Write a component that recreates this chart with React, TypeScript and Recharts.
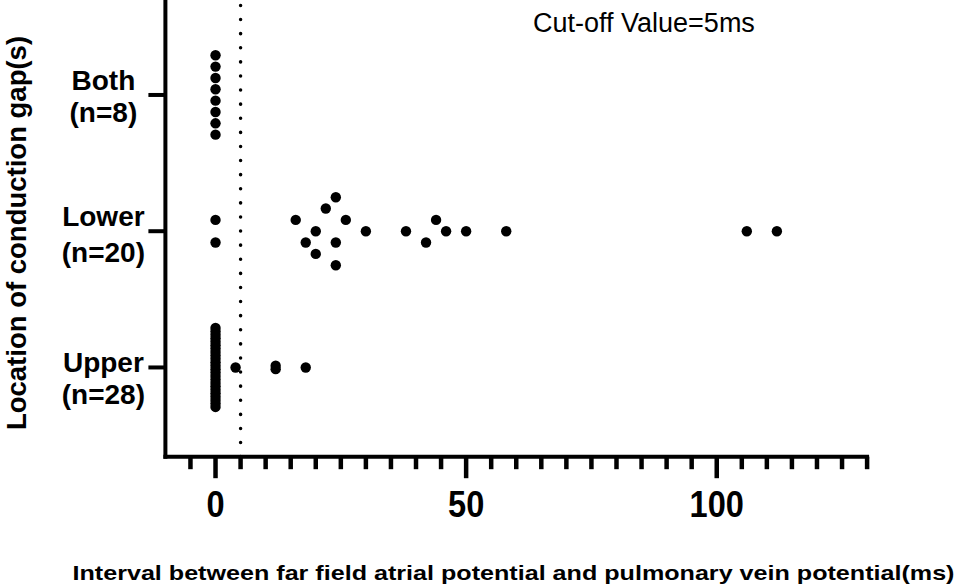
import React from "react";
import { ScatterChart, Scatter, XAxis, YAxis, ReferenceLine } from "recharts";

// groups, bottom to top
const groupNames = ["Upper", "Lower", "Both"];
const groupCounts = ["(n=28)", "(n=20)", "(n=8)"];
const groupY = [1, 2, 3];

// interval values (ms) and swarm lane of each dot (+ = up)
const upperValues = [0, 0, 0, 0, 0, 0, 0, 0, 0, 0, 0, 0, 0, 0, 0, 0, 0, 0, 0, 0, 0, 0, 0, 0, 4, 12, 12, 18];
const upperLanes = [
  11.5, 10.5, 9.5, 8.5, 7.5, 6.5, 5.5, 4.5, 3.5, 2.5, 1.5, 0.5,
  -0.5, -1.5, -2.5, -3.5, -4.5, -5.5, -6.5, -7.5, -8.5, -9.5, -10.5, -11.5,
  0, 0.5, -0.5, 0,
];
const lowerValues = [0, 0, 16, 18, 20, 20, 22, 24, 24, 24, 26, 30, 38, 42, 44, 46, 50, 58, 106, 112];
const lowerLanes = [1, -1, 1, -1, 0, -2, 2, 3, -1, -3, 1, 0, 0, -1, 1, 0, 0, 0, 0, 0];
const bothValues = [0, 0, 0, 0, 0, 0, 0, 0];
const bothLanes = [3.5, 2.5, 1.5, 0.5, -0.5, -1.5, -2.5, -3.5];

const cutOff = 5;
const xTicks = [-5, 0, 5, 10, 15, 20, 25, 30, 35, 40, 45, 50, 55, 60, 65, 70, 75, 80, 85, 90, 95, 100, 105, 110, 115, 120, 125, 130];
const xLabelTicks = [0, 50, 100];

// lane spacing in y units per group (upper column is squeezed)
const laneStep = [0.0252, 0.0832, 0.0832];

const toPoints = (values: number[], lanes: number[], g: number) =>
  values.map((v, i) => ({ x: v, y: groupY[g] + lanes[i] * laneStep[g] }));

const upperData = toPoints(upperValues, upperLanes, 0);
const lowerData = toPoints(lowerValues, lowerLanes, 1);
const bothData = toPoints(bothValues, bothLanes, 2);

const FONT = "'Liberation Sans', Arial, sans-serif";

const Dot = (props: any) => <circle cx={props.cx} cy={props.cy} r={5.2} fill="#000" />;

const XTick = (props: any) => {
  const { x, y, payload } = props;
  const major = xLabelTicks.includes(payload.value);
  return (
    <g>
      <line x1={x} x2={x} y1={y} y2={y + (major ? 21.5 : 12.5)} stroke="#000" strokeWidth={4.5} />
      {major && (
        <text
          transform={`translate(${x},517) scale(0.88,1)`}
          textAnchor="middle"
          fontSize={37}
          fontWeight="bold"
          fontFamily={FONT}
          fill="#000"
        >
          {payload.value}
        </text>
      )}
    </g>
  );
};

// baseline offsets of the two label lines, per group
const labelDy = [
  [4.5, 36.5],
  [-5, 31],
  [-5, 27.5],
];

const YTick = (props: any) => {
  const { x, y, payload } = props;
  const g = groupY.indexOf(payload.value);
  if (g < 0) return null;
  return (
    <g>
      <line x1={x - 17} x2={x} y1={y} y2={y} stroke="#000" strokeWidth={4} />
      <text x={x - 62} y={y + labelDy[g][0]} textAnchor="middle" fontSize={28} fontWeight="bold" fontFamily={FONT} fill="#000">
        {groupNames[g]}
      </text>
      <text x={x - 62} y={y + labelDy[g][1]} textAnchor="middle" fontSize={28} fontWeight="bold" fontFamily={FONT} fill="#000">
        {groupCounts[g]}
      </text>
    </g>
  );
};

export default function App() {
  return (
    <div style={{ position: "absolute", left: 0, top: 0, width: 957, height: 585, background: "#fff" }}>
      <ScatterChart width={957} height={585} margin={{ top: 0, right: 89.9, bottom: 88.3, left: 105.4 }}>
        <XAxis
          type="number"
          dataKey="x"
          domain={[-10, 130]}
          ticks={xTicks}
          interval={0}
          allowDataOverflow
          height={40}
          tickSize={0}
          tickMargin={0}
          tickLine={false}
          tick={<XTick />}
          axisLine={{ stroke: "#000", strokeWidth: 4, strokeLinecap: "square" }}
        />
        <YAxis
          type="number"
          dataKey="y"
          domain={[0.345, 3.697]}
          ticks={groupY}
          interval={0}
          allowDataOverflow
          width={60}
          tickSize={0}
          tickMargin={0}
          tickLine={false}
          tick={<YTick />}
          axisLine={{ stroke: "#000", strokeWidth: 4, strokeLinecap: "square" }}
        />
        <ReferenceLine
          x={cutOff}
          stroke="#000"
          strokeWidth={3.5}
          strokeDasharray="0.1 14"
          strokeLinecap="round"
        />
        <Scatter data={upperData} shape={<Dot />} isAnimationActive={false} />
        <Scatter data={lowerData} shape={<Dot />} isAnimationActive={false} />
        <Scatter data={bothData} shape={<Dot />} isAnimationActive={false} />
      </ScatterChart>
      <svg
        width={957}
        height={585}
        style={{ position: "absolute", left: 0, top: 0, pointerEvents: "none" }}
        fontFamily={FONT}
      >
        <text x={533} y={32} fontSize={27} fill="#000">
          Cut-off Value=5ms
        </text>
        <text transform="translate(26,233) rotate(-90)" textAnchor="middle" fontSize={27.5} fontWeight="bold" fill="#000">
          Location of conduction gap(s)
        </text>
        <text
          x={513.5}
          y={580}
          textAnchor="middle"
          fontSize={21}
          fontWeight="bold"
          textLength={882}
          lengthAdjust="spacingAndGlyphs"
          fill="#000"
        >
          Interval between far field atrial potential and pulmonary vein potential(ms)
        </text>
      </svg>
    </div>
  );
}
